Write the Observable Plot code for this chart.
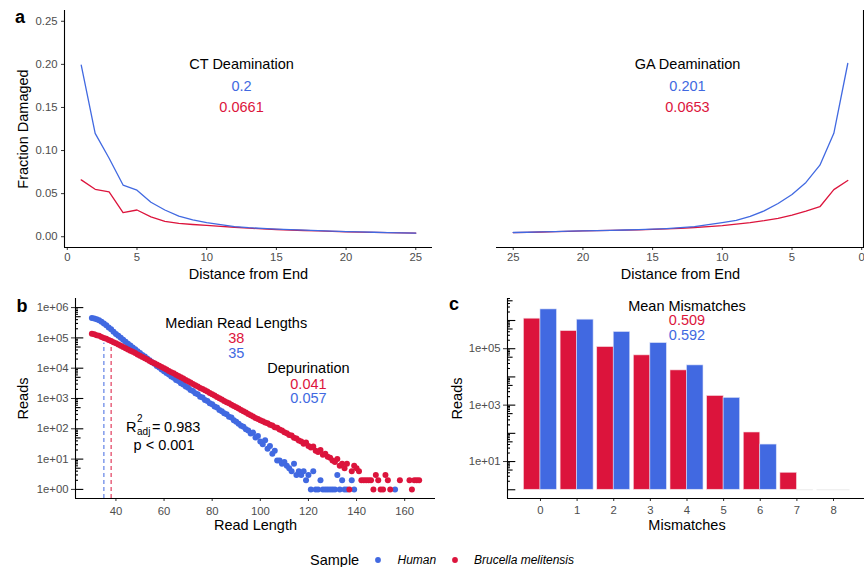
<!DOCTYPE html>
<html>
<head>
<meta charset="utf-8">
<script src="https://cdn.jsdelivr.net/npm/d3@7"></script>
<script src="https://cdn.jsdelivr.net/npm/@observablehq/plot@0.6"></script>
<style>
html, body { margin: 0; padding: 0; background: #fff; }
#chart { position: relative; width: 864px; height: 567px; overflow: hidden; background: #fff;
  font-family: "Liberation Sans", Arial, Helvetica, sans-serif; }
#chart > svg { position: absolute; }
</style>
</head>
<body>
<div id="chart"></div>
<script>
// ---------------- DATA ----------------
const samples = ["Human", "Brucella melitensis"];
const sampleColors = ["#4169E1", "#DC143C"];

// Panel a: fraction damaged by distance from read end
const distance = [1,2,3,4,5,6,7,8,9,10,11,12,13,14,15,16,17,18,19,20,21,22,23,24,25];
const ctHuman    = [0.199,0.120,0.091,0.060,0.054,0.040,0.031,0.024,0.0195,0.0164,0.014,0.0118,0.0105,0.0096,0.0088,0.0082,0.0076,0.007,0.0065,0.006,0.0056,0.0052,0.0048,0.0045,0.0042];
const ctBrucella = [0.066,0.055,0.052,0.028,0.031,0.023,0.0178,0.0155,0.0142,0.0131,0.012,0.011,0.0099,0.0091,0.0084,0.0078,0.0072,0.0067,0.0062,0.0058,0.0054,0.0051,0.0048,0.0045,0.0042];
const gaHuman    = [0.201,0.120,0.083,0.063,0.049,0.0386,0.030,0.0235,0.019,0.0164,0.014,0.0118,0.0105,0.0095,0.0088,0.0083,0.0078,0.0074,0.0071,0.0068,0.0064,0.006,0.0056,0.0052,0.0049];
const gaBrucella = [0.0653,0.0547,0.0348,0.0298,0.0252,0.0214,0.0187,0.0164,0.0147,0.013,0.0118,0.0107,0.0098,0.0091,0.0085,0.008,0.0076,0.0073,0.007,0.0067,0.0063,0.0059,0.0055,0.0051,0.0048];
const fractionTicks = [0, 0.05, 0.10, 0.15, 0.20, 0.25];
const distanceTicks = [0, 5, 10, 15, 20, 25];
const ctLabels = ["CT Deamination", "0.2", "0.0661"];
const gaLabels = ["GA Deamination", "0.201", "0.0653"];

// Panel b: reads per read length (30..166); null = no reads
const readLength = d3.range(30, 167);
const readsHuman = [
  457000,440000,415000,382000,341000,296000,259000,222000,192000,160000,   // 30-39
  134000,118000,100500,86500,74500,64200,56500,48600,42000,36000,          // 40-49
  31800,27300,24200,20700,18400,15700,13900,11900,10600,9050,              // 50-59
  8000,7000,6230,5300,4850,4100,3780,3200,2920,2470,                       // 60-69
  2270,1920,1770,1490,1370,1150,1070,895,830,695,                          // 70-79
  640,540,500,415,380,325,300,250,236,190,                                 // 80-89
  172,148,126,117,96,88,70,75,52,58,                                       // 90-99
  38,31,42,22,27,15,19,9,9,7,                                              // 100-109
  8,6,5,4,7,3,4,3,4,2,                                                     // 110-119
  3,1,4,1,1,2,1,1,1,1,                                                     // 120-129
  1,1,3,1,2,1,1,null,2,1,                                                  // 130-139
  null,null,null,null,null,null,null,null,null,null,                       // 140-149
  null,null,null,null,null,null,1,null,null,null,                          // 150-159
  null,null,null,null,null,null,null                                       // 160-166
];
const readsBrucella = [
  138000,132000,123000,117500,107000,100000,93300,85100,79400,72400,       // 30-39
  66100,60300,55000,50100,45700,41700,38000,34700,31600,28200,             // 40-49
  25700,23400,21400,19500,17400,15800,14500,13200,12000,11000,             // 50-59
  10000,9120,8130,7410,6760,6030,5500,5010,4570,4070,                      // 60-69
  3720,3390,3020,2750,2510,2240,2040,1860,1700,1510,                       // 70-79
  1380,1260,1120,1020,933,832,759,692,617,562,                             // 80-89
  513,468,417,380,347,309,282,257,229,209,                                 // 90-99
  191,178,160,152,136,128,113,108,94,88,                                   // 100-109
  77,72,62,60,51,48,41,38,32,35,                                           // 110-119
  27,24,26,19,17,20,14,15,12,11,                                           // 120-129
  9,8,10,6,7,5,7,1,4,6,                                                    // 130-139
  5,4,2,2,2,2,2,1,3,2,                                                     // 140-149
  1,1,3,2,1,null,null,null,2,null,                                         // 150-159
  null,null,2,1,2,2,2                                                      // 160-166
];
const medianLength = [35, 38];           // Human, Brucella
const medianTop = [67000, 76000];        // top of dashed median segments
const readTicksX = [40, 60, 80, 100, 120, 140, 160];
const readTicksY = [1, 10, 100, 1000, 10000, 100000, 1000000];
const medianLabels = ["Median Read Lengths", "38", "35"];
const depurLabels = ["Depurination", "0.041", "0.057"];
const fitLabels = ["R", "2", "adj", "=", "0.983", "p < 0.001"];

// Panel c: reads by number of mismatches
const mismatches = [0,1,2,3,4,5,6,7,8];
const mmHuman    = [2470000,1070000,390000,158000,25600,1800,40,1,1];
const mmBrucella = [1160000,420000,114000,58000,17000,2100,107,4,1];
const mmTicksY = [10, 1000, 100000];
const mmLabels = ["Mean Mismatches", "0.509", "0.592"];

// ---------------- HELPERS ----------------
const FONT = '"Liberation Sans", Arial, Helvetica, sans-serif';
const [BLUE, RED] = sampleColors;
const chart = document.getElementById("chart");
const baseStyle = {fontFamily: FONT, fontSize: "11.3px", color: "#4d4d4d", background: "transparent", overflow: "visible"};
function place(svg, left, top) {
  svg.style.left = left + "px";
  svg.style.top = top + "px";
  chart.appendChild(svg);
}
const ann = (txt, x, y, fill, extra = {}) =>
  Plot.text([txt], {x, y, text: d => d, fill, fontSize: 14.5, ...extra});
const xTitle = (txt) => Plot.text([txt], {frameAnchor: "bottom", dy: 27, textAnchor: "middle", lineAnchor: "middle", fill: "black", fontSize: 14.5});
const yTitle = (txt, dx) => Plot.text([txt], {frameAnchor: "left", dx, rotate: -90, textAnchor: "middle", lineAnchor: "middle", fill: "black", fontSize: 14.5});
const sciFmt = d => "1e+" + String(Math.round(Math.log10(d))).padStart(2, "0");

function logTickRows(maxValue) {
  const rows = [];
  for (let e = 0; e <= 7; e++) for (let k = 1; k <= 9; k++) {
    const v = k * Math.pow(10, e);
    if (v <= maxValue * 1.0001) rows.push({v, len: k === 1 ? 8.3 : (k === 5 ? 5.6 : 3)});
  }
  return rows;
}

// ---------------- PANEL a (left, CT) ----------------
const aX = [-0.2, 26.2], aY = [-0.0125, 0.2625];
place(Plot.plot({
  width: 440, height: 290, marginLeft: 64, marginRight: 8, marginTop: 10, marginBottom: 43,
  style: baseStyle,
  x: {domain: aX}, y: {domain: aY},
  marks: [
    Plot.axisX({ticks: distanceTicks, tickSize: 3, tickPadding: 2, label: null, stroke: "#333", fill: "#4d4d4d"}),
    Plot.axisY({ticks: fractionTicks, tickFormat: d3.format(".2f"), tickSize: 3, tickPadding: 4, label: null, stroke: "#333", fill: "#4d4d4d"}),
    Plot.ruleY([aY[0]], {stroke: "black", strokeWidth: 1.1}),
    Plot.ruleX([aX[0]], {stroke: "black", strokeWidth: 1.1}),
    Plot.line(distance, {x: d => d, y: (d, i) => ctBrucella[i], stroke: RED, strokeWidth: 1.3}),
    Plot.line(distance, {x: d => d, y: (d, i) => ctHuman[i], stroke: BLUE, strokeWidth: 1.3}),
    ann(ctLabels[0], 12.5, 0.2, "black"),
    ann(ctLabels[1], 12.5, 0.175, BLUE),
    ann(ctLabels[2], 12.5, 0.15, RED),
    xTitle("Distance from End"),
    yTitle("Fraction Damaged", -41)
  ]
}), 0, 0);

// ---------------- PANEL a (right, GA) ----------------
place(Plot.plot({
  width: 424, height: 290, marginLeft: 56, marginRight: 0, marginTop: 10, marginBottom: 43,
  style: baseStyle,
  x: {domain: [26.2, -0.2]}, y: {domain: aY, axis: null},
  marks: [
    Plot.axisX({ticks: distanceTicks, tickSize: 3, tickPadding: 2, label: null, stroke: "#333", fill: "#4d4d4d"}),
    Plot.ruleY([aY[0]], {stroke: "black", strokeWidth: 1.1}),
    Plot.ruleX([-0.2], {stroke: "black", strokeWidth: 1.1, dx: -1}),
    Plot.line(distance, {x: d => d, y: (d, i) => gaBrucella[i], stroke: RED, strokeWidth: 1.3}),
    Plot.line(distance, {x: d => d, y: (d, i) => gaHuman[i], stroke: BLUE, strokeWidth: 1.3}),
    ann(gaLabels[0], 12.5, 0.2, "black"),
    ann(gaLabels[1], 12.5, 0.175, BLUE),
    ann(gaLabels[2], 12.5, 0.15, RED),
    xTitle("Distance from End")
  ]
}), 440, 0);

// ---------------- PANEL b ----------------
const bX = [23.2, 172.8], bY = [Math.pow(10, -0.3), Math.pow(10, 6.3)];
const bUnitsPerPx = (bX[1] - bX[0]) / 360;
const humanRows = readLength.map((L, i) => ({L, n: readsHuman[i]})).filter(d => d.n != null);
const brucRows = readLength.map((L, i) => ({L, n: readsBrucella[i]})).filter(d => d.n != null);
const bLog = logTickRows(bY[1]);
place(Plot.plot({
  width: 445, height: 245, marginLeft: 75, marginRight: 10, marginTop: 13, marginBottom: 32,
  style: baseStyle,
  x: {domain: bX}, y: {type: "log", domain: bY},
  marks: [
    Plot.axisX({ticks: readTicksX, tickSize: 3, tickPadding: 5, label: null, stroke: "#333", fill: "#4d4d4d"}),
    Plot.axisY({ticks: readTicksY, tickFormat: sciFmt, tickSize: 4, tickPadding: 3, label: null, stroke: "#333", fill: "#4d4d4d"}),
    Plot.ruleY(bLog, {y: "v", x1: bX[0], x2: d => bX[0] + d.len * bUnitsPerPx, stroke: "black", strokeWidth: 1.1}),
    Plot.ruleY([bY[0]], {stroke: "black", strokeWidth: 1.1}),
    Plot.ruleX([bX[0]], {stroke: "black", strokeWidth: 1.1}),
    Plot.dot(humanRows, {x: "L", y: "n", fill: BLUE, r: 3}),
    Plot.dot(brucRows, {x: "L", y: "n", fill: RED, r: 3}),
    Plot.ruleX([0], {x: medianLength[0], y1: bY[0], y2: medianTop[0], stroke: BLUE, strokeWidth: 1, strokeDasharray: "4,3"}),
    Plot.ruleX([0], {x: medianLength[1], y1: bY[0], y2: medianTop[1], stroke: RED, strokeWidth: 1, strokeDasharray: "4,3"}),
    ann(medianLabels[0], 90, 300000, "black"),
    ann(medianLabels[1], 90, 100000, RED),
    ann(medianLabels[2], 90, 30000, BLUE),
    ann(depurLabels[0], 120, 10000, "black"),
    ann(depurLabels[1], 120, 3000, RED),
    ann(depurLabels[2], 120, 1000, BLUE),
    ann(fitLabels[0], 60, 110, "black", {textAnchor: "start", dx: -38}),
    ann(fitLabels[1], 60, 110, "black", {textAnchor: "start", dx: -27, dy: -8.5, fontSize: 10}),
    ann(fitLabels[2], 60, 110, "black", {textAnchor: "start", dx: -27, dy: 4, fontSize: 10}),
    ann(fitLabels[3], 60, 110, "black", {textAnchor: "start", dx: -12}),
    ann(fitLabels[4], 60, 110, "black", {textAnchor: "start", dx: 0}),
    ann(fitLabels[5], 60, 29, "black"),
    xTitle("Read Length"),
    yTitle("Reads", -52)
  ]
}), 0, 285);

// ---------------- PANEL c ----------------
const cX = [-0.9, 8.9], cY = [Math.pow(10, -0.31), Math.pow(10, 6.78)];
const cUnitsPerPx = (cX[1] - cX[0]) / 359;
const cLog = logTickRows(cY[1]);
const barRows = mismatches.flatMap((m, i) => [
  {m, s: samples[1], v: mmBrucella[i], x1: m - 0.45, x2: m},
  {m, s: samples[0], v: mmHuman[i], x1: m, x2: m + 0.45}
]);
place(Plot.plot({
  width: 421, height: 245, marginLeft: 62, marginRight: 0, marginTop: 13, marginBottom: 32,
  style: baseStyle,
  x: {domain: cX}, y: {type: "log", domain: cY},
  marks: [
    Plot.axisX({ticks: mismatches, tickFormat: d => String(d), tickSize: 3, tickPadding: 4, label: null, stroke: "#333", fill: "#4d4d4d"}),
    Plot.axisY({ticks: mmTicksY, tickFormat: sciFmt, tickSize: 4, tickPadding: 3, label: null, stroke: "#333", fill: "#4d4d4d"}),
    Plot.rectY(barRows.filter(d => d.s === samples[1] && d.v > 1), {x1: "x1", x2: "x2", y1: 1, y2: "v", fill: RED, stroke: "#f3d6dc", strokeWidth: 0.6}),
    Plot.rectY(barRows.filter(d => d.s === samples[0] && d.v > 1), {x1: "x1", x2: "x2", y1: 1, y2: "v", fill: BLUE, stroke: "#d9e0f7", strokeWidth: 0.6}),
    Plot.ruleY(barRows.filter(d => d.v <= 1), {y: 1, x1: "x1", x2: "x2", stroke: "#ebebeb", strokeWidth: 1}),
    Plot.ruleY(cLog, {y: "v", x1: cX[0], x2: d => cX[0] + d.len * cUnitsPerPx, stroke: "black", strokeWidth: 1.1}),
    Plot.ruleY([cY[0]], {stroke: "black", strokeWidth: 1.1}),
    Plot.ruleX([cX[0]], {stroke: "black", strokeWidth: 1.1}),
    ann(mmLabels[0], 4, 3300000, "black"),
    ann(mmLabels[1], 4, 1000000, RED),
    ann(mmLabels[2], 4, 300000, BLUE),
    xTitle("Mismatches"),
    yTitle("Reads", -50.5)
  ]
}), 445, 285);

// ---------------- panel letters + legend ----------------
const overlay = d3.create("svg").attr("width", 864).attr("height", 567)
  .style("left", "0px").style("top", "0px").style("pointer-events", "none")
  .attr("font-family", FONT);
[["a", 15, 22.5], ["b", 16.5, 311.5], ["c", 449, 309.5]].forEach(([t, x, y]) =>
  overlay.append("text").attr("x", x).attr("y", y).attr("font-size", 18).attr("font-weight", "bold").attr("fill", "black").text(t));
const lg = overlay.append("g");
lg.append("text").attr("x", 310).attr("y", 565.2).attr("font-size", 14.5).attr("fill", "black").text("Sample");
const legendItems = [{dot: 378, text: 397.5}, {dot: 455, text: 474}];
samples.forEach((s, i) => {
  lg.append("circle").attr("cx", legendItems[i].dot).attr("cy", 560).attr("r", 2.9).attr("fill", sampleColors[i]);
  lg.append("text").attr("x", legendItems[i].text).attr("y", 564.3).attr("font-size", 12)
    .attr("font-style", "italic").attr("fill", "black").text(s);
});
chart.appendChild(overlay.node());
</script>
</body>
</html>
